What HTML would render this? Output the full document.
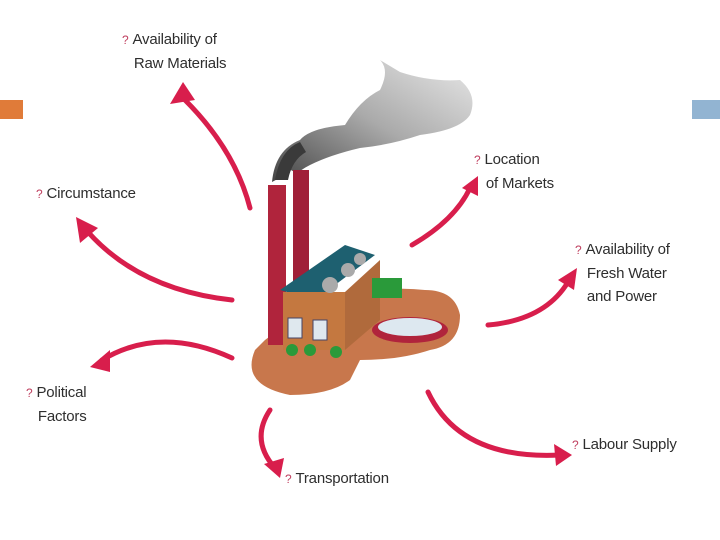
<!DOCTYPE html>
<html><head><style>
body{margin:0;width:720px;height:540px;background:#fff;overflow:hidden;position:relative;font-family:"Liberation Sans",sans-serif}
.t{position:absolute;font-size:15px;color:#2e2e2e;line-height:23px;letter-spacing:-0.2px}
.q{color:#c04060;font-size:12px;margin-right:4px}
</style></head><body>
<div style="position:absolute;left:0;top:100px;width:23px;height:19px;background:#e07b39"></div>
<div style="position:absolute;left:692px;top:100px;width:28px;height:19px;background:#92b4d2"></div>
<svg width="720" height="540" style="position:absolute;left:0;top:0">
<defs>
<linearGradient id="sm" x1="0" y1="1" x2="1" y2="0"><stop offset="0" stop-color="#444"/><stop offset="0.5" stop-color="#aaa"/><stop offset="1" stop-color="#e8e8e8"/></linearGradient>
</defs>
<g fill="none" stroke="#d81e4c" stroke-linecap="round">
<path d="M250 208 Q235 150 185 100" stroke-width="5"/>
<path d="M232 300 Q140 290 88 232" stroke-width="5"/>
<path d="M232 358 Q160 325 102 360" stroke-width="5"/>
<path d="M270 410 Q250 440 275 468" stroke-width="5"/>
<path d="M428 392 Q460 460 560 455" stroke-width="5"/>
<path d="M488 325 Q545 320 568 282" stroke-width="5"/>
<path d="M412 245 Q455 220 470 188" stroke-width="5"/>
</g>
<g fill="#d81e4c">
<polygon points="183,82 170,104 195,100"/>
<polygon points="76,217 80,243 98,228"/>
<polygon points="90,367 110,350 110,372"/>
<polygon points="280,478 264,464 284,458"/>
<polygon points="572,455 554,444 556,466"/>
<polygon points="577,268 558,280 574,290"/>
<polygon points="478,176 462,188 478,196"/>
</g>
<!-- smoke -->
<path d="M272 182 Q275 150 300 140 Q310 128 345 125 Q360 100 380 90 Q390 70 380 60 L400 72 Q430 82 460 80 Q478 95 470 115 Q460 130 420 135 Q390 145 360 148 Q330 155 310 165 Q300 170 296 175 Q290 165 285 175 Z" fill="url(#sm)"/>
<path d="M275 180 Q280 150 300 142 L306 152 Q292 160 288 180 Z" fill="#3a3a3a"/>
<!-- ground -->
<path d="M255 350 Q240 385 290 395 Q330 395 350 380 L360 360 Q400 360 430 350 Q460 345 460 315 Q455 290 425 290 Q380 285 340 300 Q290 320 265 340 Z" fill="#c8774c"/>
<!-- chimneys -->
<rect x="268" y="185" width="18" height="160" fill="#b0243c"/>
<rect x="293" y="170" width="16" height="155" fill="#a01f38"/>
<!-- building -->
<polygon points="280,290 345,245 375,255 315,300" fill="#1e6070"/>
<rect x="283" y="292" width="62" height="58" fill="#c47840"/>
<polygon points="345,292 380,260 380,320 345,350" fill="#b06a3c"/>
<rect x="288" y="318" width="14" height="20" fill="#dfe8ee" stroke="#446" stroke-width="1"/>
<rect x="313" y="320" width="14" height="20" fill="#dfe8ee" stroke="#446" stroke-width="1"/>
<circle cx="330" cy="285" r="8" fill="#aaa"/>
<circle cx="348" cy="270" r="7" fill="#aaa"/>
<circle cx="360" cy="259" r="6" fill="#aaa"/>
<rect x="372" y="278" width="30" height="20" fill="#2a9a3a"/>
<ellipse cx="410" cy="330" rx="38" ry="13" fill="#b0243c"/>
<ellipse cx="410" cy="327" rx="32" ry="9" fill="#dde8f0"/>
<circle cx="292" cy="350" r="6" fill="#2a9a3a"/>
<circle cx="310" cy="350" r="6" fill="#2a9a3a"/>
<circle cx="336" cy="352" r="6" fill="#2a9a3a"/>
</svg>
<div class="t" style="left:122px;top:28px"><span class="q">?</span>Availability of<br>&nbsp;&nbsp;&nbsp;Raw Materials</div>
<div class="t" style="left:36px;top:182px"><span class="q">?</span>Circumstance</div>
<div class="t" style="left:26px;top:381px"><span class="q">?</span>Political<br>&nbsp;&nbsp;&nbsp;Factors</div>
<div class="t" style="left:285px;top:467px"><span class="q">?</span>Transportation</div>
<div class="t" style="left:572px;top:433px"><span class="q">?</span>Labour Supply</div>
<div class="t" style="left:575px;top:238px"><span class="q">?</span>Availability of<br>&nbsp;&nbsp;&nbsp;Fresh Water<br>&nbsp;&nbsp;&nbsp;and Power</div>
<div class="t" style="left:474px;top:148px"><span class="q">?</span>Location<br>&nbsp;&nbsp;&nbsp;of Markets</div>
</body></html>
